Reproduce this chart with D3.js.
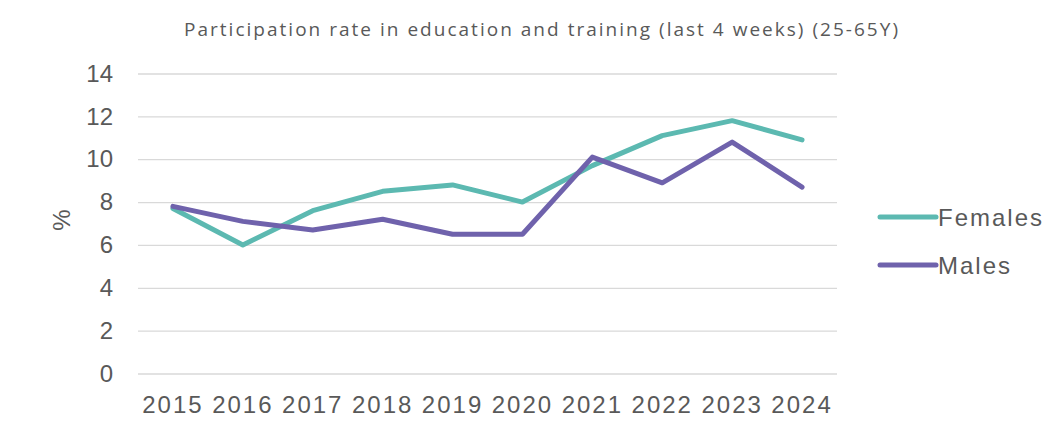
<!DOCTYPE html>
<html>
<head>
<meta charset="utf-8">
<script src="https://cdn.jsdelivr.net/npm/d3@7"></script>
<style>
  html, body { margin: 0; padding: 0; background: #ffffff; }
  svg { display: block; font-family: "Liberation Sans", Arial, sans-serif; }
</style>
</head>
<body>
<svg id="chart" width="1052" height="422"></svg>
<script>
const title = "Participation rate in education and training (last 4 weeks) (25-65Y)";
const years = ["2015","2016","2017","2018","2019","2020","2021","2022","2023","2024"];
const females = [7.7, 6.0, 7.6, 8.5, 8.8, 8.0, 9.7, 11.1, 11.8, 10.9];
const males   = [7.8, 7.1, 6.7, 7.2, 6.5, 6.5, 10.1, 8.9, 10.8, 8.7];
const yTicks = [0, 2, 4, 6, 8, 10, 12, 14];
const seriesNames = ["Females", "Males"];
const seriesColors = ["#5cb9b1", "#6f62ac"];

const svg = d3.select("#chart");
const margin = {left: 138, right: 1052 - 837, top: 73.5, bottom: 422 - 373.5};

const x = d3.scaleBand().domain(years).range([margin.left, 1052 - margin.right]);
const y = d3.scaleLinear().domain([0, 14]).range([373.5, 73.5]);

// title
svg.append("text")
  .attr("x", 541).attr("y", 36)
  .attr("text-anchor", "middle")
  .attr("font-size", 19)
  .attr("font-family", "'Open Sans', sans-serif")
  .attr("fill", "#595959")
  .attr("textLength", 714)
  .attr("lengthAdjust", "spacing")
  .text(title);

// grid
const yAxis = d3.axisLeft(y).tickValues(yTicks).tickSize(-(x.range()[1] - x.range()[0])).tickPadding(25);
const gy = svg.append("g").attr("transform", `translate(${margin.left},0)`).call(yAxis);
gy.select(".domain").remove();
gy.selectAll(".tick line").attr("stroke", "#d9d9d9").attr("stroke-width", 1.3);
gy.selectAll(".tick text").attr("fill", "#595959").attr("font-size", 24)
  .attr("font-family", "'Liberation Sans', Arial, sans-serif");

// x axis
const xAxis = d3.axisBottom(x).tickSize(0).tickPadding(22);
const gx = svg.append("g").attr("transform", `translate(0,${y(0)})`).call(xAxis);
gx.select(".domain").remove();
gx.selectAll(".tick text").attr("fill", "#595959").attr("font-size", 24)
  .attr("letter-spacing", "2px")
  .attr("font-family", "'Liberation Sans', Arial, sans-serif");

// y axis label
svg.append("text")
  .attr("transform", "translate(70,220) rotate(-90)")
  .attr("text-anchor", "middle")
  .attr("font-size", 24)
  .attr("fill", "#595959")
  .text("%");

// lines
const line = d3.line()
  .x((d, i) => x(years[i]) + x.bandwidth() / 2)
  .y(d => y(d));

[females, males].forEach((vals, k) => {
  svg.append("path")
    .datum(vals)
    .attr("fill", "none")
    .attr("stroke", seriesColors[k])
    .attr("stroke-width", 5)
    .attr("stroke-linejoin", "round")
    .attr("stroke-linecap", "round")
    .attr("d", line);
});

// legend
const legendY = [217, 265];
seriesNames.forEach((name, k) => {
  const g = svg.append("g").attr("transform", `translate(880,${legendY[k]})`);
  g.append("line").attr("x1", 0).attr("x2", 56).attr("y1", 0).attr("y2", 0)
    .attr("stroke", seriesColors[k]).attr("stroke-width", 5).attr("stroke-linecap", "round");
  g.append("text").attr("x", 58).attr("y", 8.5)
    .attr("font-size", 24).attr("fill", "#595959")
    .attr("letter-spacing", "2px")
    .text(name);
});
</script>
</body>
</html>
